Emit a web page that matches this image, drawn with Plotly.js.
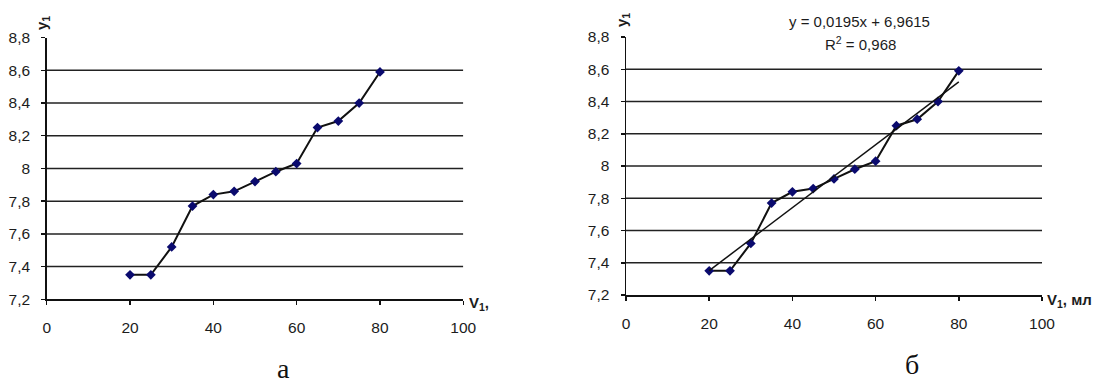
<!DOCTYPE html>
<html>
<head>
<meta charset="utf-8">
<script src="https://cdn.plot.ly/plotly-3.0.1.min.js"></script>
<style>
  html, body { margin: 0; padding: 0; background: #fff; }
  #chart { width: 1099px; height: 383px; }
</style>
</head>
<body>
<div id="chart"></div>
<script>
// Volume of added solution, ml
const volume = [20, 25, 30, 35, 40, 45, 50, 55, 60, 65, 70, 75, 80];
// Measured y1 values
const y1 = [7.35, 7.35, 7.52, 7.77, 7.84, 7.86, 7.92, 7.98, 8.03, 8.25, 8.29, 8.40, 8.59];

// Linear trend y = slope*x + intercept, R^2
const slope = 0.0195;
const intercept = 6.9615;
const rSquared = 0.968;

// Axis ticks
const xTickVals = [0, 20, 40, 60, 80, 100];
const yTickVals = [7.2, 7.4, 7.6, 7.8, 8.0, 8.2, 8.4, 8.6, 8.8];
const yTickText = ['7,2', '7,4', '7,6', '7,8', '8', '8,2', '8,4', '8,6', '8,8'];

const W = 1099, H = 383;
const px = v => v / W;
const py = v => 1 - v / H;
const fmt = v => String(v).replace('.', ',');

const FONT = '"Liberation Sans", Arial, sans-serif';
const SERIF = '"Liberation Serif", "Times New Roman", serif';
const INK = '#1c1c1c';

const trendX = [volume[0], volume[volume.length - 1]];
const trendY = trendX.map(x => slope * x + intercept);

const lineTrace = (xa, ya) => ({
  x: volume, y: y1, xaxis: xa, yaxis: ya,
  type: 'scatter', mode: 'lines+markers',
  line: { color: '#111', width: 2 },
  marker: { symbol: 'diamond', size: 7.5, color: '#0a0a6e' },
  hoverinfo: 'x+y', showlegend: false
});

const data = [
  lineTrace('x', 'y'),
  lineTrace('x2', 'y2'),
  {
    x: trendX, y: trendY, xaxis: 'x2', yaxis: 'y2',
    type: 'scatter', mode: 'lines',
    line: { color: '#111', width: 1.5 },
    showlegend: false
  }
];

const xAxisBase = {
  range: [0, 100], tickvals: xTickVals, ticks: 'outside', ticklen: 4,
  tickwidth: 1.5, tickcolor: '#111', showline: true, linecolor: '#111',
  linewidth: 1.5, showgrid: false, zeroline: false, ticklabelstandoff: 10,
  tickfont: { family: FONT, size: 15.5, color: INK }, fixedrange: true
};
const yAxisBase = {
  range: [7.2, 8.8], tickvals: yTickVals, ticktext: yTickText,
  ticks: 'outside', ticklen: 4, tickwidth: 1.5, tickcolor: '#111',
  showline: true, linecolor: '#111', linewidth: 1.5, showgrid: false,
  zeroline: false, ticklabelstandoff: 8,
  tickfont: { family: FONT, size: 15.5, color: INK }, fixedrange: true
};

// Horizontal grid lines between the bottom axis and the top of the range
const gridVals = yTickVals.slice(1, -1);
const shapes = [];
[['x', 'y'], ['x2', 'y2']].forEach(([xr, yr]) => {
  gridVals.forEach(v => shapes.push({
    type: 'line', xref: xr, yref: yr, x0: 0, x1: 100, y0: v, y1: v,
    line: { color: '#222', width: 1.5 }, layer: 'below'
  }));
});

const ann = (x, y, text, extra) => Object.assign({
  xref: 'paper', yref: 'paper', x: px(x), y: py(y), text: text,
  showarrow: false, xanchor: 'center', yanchor: 'middle',
  font: { family: FONT, size: 15, color: INK }
}, extra || {});

const annotations = [
  ann(42.5, 23.5, '<b>y<sub>1</sub></b>', { textangle: -90 }),
  ann(622, 20, '<b>y<sub>1</sub></b>', { textangle: -90 }),
  ann(467, 303, '<b>V<sub>1</sub>,</b>', { xanchor: 'left' }),
  ann(1045, 300, '<b>V<sub>1</sub>, мл</b>', { xanchor: 'left' }),
  ann(859, 21, 'y = ' + fmt(slope) + 'x + ' + fmt(intercept)),
  ann(860, 43, 'R<sup>2</sup> = ' + fmt(rSquared)),
  ann(283, 368, 'а', { font: { family: SERIF, size: 28, color: '#111' } }),
  ann(912, 364, 'б', { font: { family: SERIF, size: 28, color: '#111' } })
];

const layout = {
  width: W, height: H,
  margin: { l: 0, r: 0, t: 0, b: 0 },
  paper_bgcolor: '#fff', plot_bgcolor: '#fff',
  showlegend: false,
  xaxis: Object.assign({}, xAxisBase, { domain: [px(46.7), px(463.3)], anchor: 'y' }),
  yaxis: Object.assign({}, yAxisBase, { domain: [py(299.3), py(37.6)], anchor: 'x' }),
  xaxis2: Object.assign({}, xAxisBase, { domain: [px(626), px(1042)], anchor: 'y2' }),
  yaxis2: Object.assign({}, yAxisBase, { domain: [py(295), py(37)], anchor: 'x2' }),
  shapes: shapes,
  annotations: annotations
};

Plotly.newPlot('chart', data, layout, { displayModeBar: false, staticPlot: true });
</script>
</body>
</html>
